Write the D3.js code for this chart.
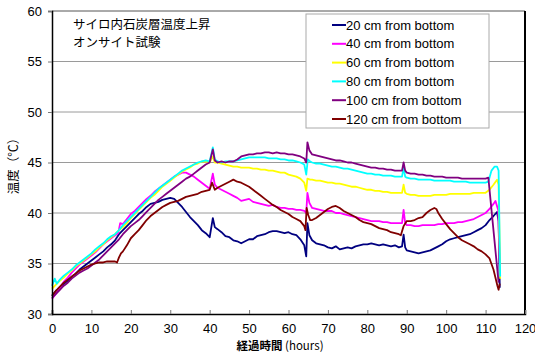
<!DOCTYPE html>
<html>
<head>
<meta charset="utf-8">
<script src="https://cdn.jsdelivr.net/npm/d3@7"></script>
<style>
  body { margin: 0; background: #fff; }
  svg { display: block; }
  .tick text { font-family: "Liberation Sans", Arial, sans-serif; font-size: 13px; fill: #000; }
</style>
</head>
<body>
<div id="chart"></div>
<script>
// tick labels
const xTicks = [0, 10, 20, 30, 40, 50, 60, 70, 80, 90, 100, 110, 120];
const yTicks = [30, 35, 40, 45, 50, 55, 60];

const seriesNames = ["20 cm from bottom", "40 cm from bottom", "60 cm from bottom",
    "80 cm from bottom", "100 cm from bottom", "120 cm from bottom"];

// [hours, temperature]
const s20 = [[0,31.8],[1,32.3],[2,32.6],[3,33.0],[4,33.3],[5,33.7],[6,34.0],[7,34.4],[8,34.7],[9,35.0],[10,35.3],[11,35.6],[12,35.9],[13,36.2],[14,36.6],[15,36.9],[16,37.3],[17,37.9],[18,38.3],[19,38.7],[20,39.1],[21,39.5],[22,39.9],[23,40.2],[24,40.6],[25,40.9],[26,41.0],[27,41.1],[28,41.3],[29,41.4],[30,41.5],[31,41.4],[32,41.0],[33,40.6],[34,40.1],[35,39.6],[36,39.2],[37,38.8],[38,38.3],[39,38.0],[40,37.6],[40.8,39.5],[41.3,38.6],[42,38.4],[43,38.1],[44,37.7],[45,37.6],[46,37.3],[47,37.2],[48,37.0],[49,37.2],[50,37.4],[51,37.4],[52,37.7],[53,37.8],[54,37.9],[55,38.1],[56,38.2],[57,38.2],[58,38.1],[59,38.0],[60,38.1],[61,37.9],[62,37.8],[63,37.4],[64,36.8],[64.5,35.7],[64.8,39.0],[65.3,37.8],[66,37.3],[67,37.0],[68,36.9],[69,36.8],[70,36.6],[71,36.5],[72,36.7],[73,36.4],[74,36.5],[75,36.6],[76,36.5],[77,36.7],[78,36.8],[79,36.9],[80,36.9],[81,37.0],[82,36.9],[83,36.8],[84,36.9],[85,36.8],[86,36.7],[87,36.8],[88,36.6],[88.8,36.7],[89.2,37.85],[89.6,36.6],[90,36.3],[91,36.2],[92,36.1],[93,36.0],[94,36.1],[95,36.2],[96,36.3],[97,36.5],[98,36.7],[99,36.9],[100,37.2],[101,37.4],[102,37.5],[103,37.6],[104,37.7],[105,37.8],[106,37.9],[107,38.1],[108,38.3],[109,38.5],[110,38.8],[111,39.3],[112,39.7],[112.9,40.1],[113.3,39.2],[113.6,32.6]];
const s40 = [[0,31.5],[1,32.0],[2,32.6],[3,33.2],[4,33.6],[5,34.1],[6,34.5],[7,34.9],[8,35.2],[9,35.5],[10,35.8],[11,36.1],[12,36.5],[13,36.9],[14,37.2],[15,37.5],[16,37.8],[16.8,38.0],[17.3,39.0],[18,38.9],[19,39.4],[20,39.9],[21,40.2],[22,40.6],[23,41.0],[24,41.4],[25,41.7],[26,42.1],[27,42.4],[28,42.7],[29,43.0],[30,43.3],[31,43.6],[32,43.8],[33,44.0],[34,44.0],[35,43.8],[36,43.6],[37,43.3],[38,43.0],[39,42.7],[40,42.4],[40.8,43.9],[41.3,42.8],[42,42.5],[43,42.3],[44,42.1],[45,41.9],[46,41.7],[47,41.5],[48,41.2],[49,41.3],[50,41.4],[51,41.1],[52,41.0],[53,40.9],[54,40.8],[55,40.7],[56,40.8],[57,40.6],[58,40.5],[59,40.5],[60,40.4],[61,40.4],[62,40.3],[63,40.3],[64,40.2],[64.5,40.0],[64.8,42.0],[65.3,41.0],[66,40.5],[67,40.4],[68,40.3],[69,40.2],[70,40.2],[71,40.2],[72,40.0],[73,40.0],[74,39.9],[75,39.8],[76,39.7],[77,39.6],[78,39.5],[79,39.4],[80,39.3],[81,39.2],[82,39.2],[83,39.2],[84,39.1],[85,39.1],[86,39.0],[87,39.0],[88,39.0],[88.8,39.0],[89.2,40.3],[89.6,39.0],[90,38.8],[91,38.8],[92,38.7],[93,38.7],[94,38.8],[95,38.8],[96,38.8],[97,38.8],[98,38.9],[99,38.9],[100,39.0],[101,39.0],[102,39.0],[103,39.1],[104,39.1],[105,39.2],[106,39.3],[107,39.4],[108,39.6],[109,39.8],[110,40.0],[111,40.4],[112,40.9],[112.5,41.2],[113.2,40.3],[113.7,33.7]];
const s60 = [[0,32.5],[1,32.9],[2,33.3],[3,33.6],[4,34.0],[5,34.3],[6,34.7],[7,35.0],[8,35.3],[9,35.6],[10,35.9],[11,36.2],[12,36.6],[13,36.9],[14,37.3],[15,37.6],[16,37.9],[17,38.3],[18,38.6],[19,39.0],[20,39.5],[21,39.9],[22,40.3],[23,40.7],[24,41.1],[25,41.5],[26,41.8],[27,42.2],[28,42.6],[29,42.9],[30,43.2],[31,43.5],[32,43.8],[33,44.1],[34,44.3],[35,44.5],[36,44.8],[37,44.9],[38,45.1],[39,45.1],[40,45.0],[40.8,45.6],[41.3,45.0],[42,45.0],[43,44.9],[44,44.8],[45,44.7],[46,44.6],[47,44.6],[48,44.5],[49,44.5],[50,44.5],[51,44.4],[52,44.4],[53,44.3],[54,44.3],[55,44.2],[56,44.2],[57,44.1],[58,44.0],[59,44.0],[60,43.8],[61,43.7],[62,43.6],[63,43.4],[64,43.0],[64.5,42.2],[64.8,43.4],[65.5,43.3],[66,43.3],[67,43.2],[68,43.2],[69,43.1],[70,43.0],[71,43.0],[72,42.9],[73,42.9],[74,42.8],[75,42.7],[76,42.6],[77,42.6],[78,42.5],[79,42.4],[80,42.3],[81,42.3],[82,42.2],[83,42.2],[84,42.1],[85,42.1],[86,42.0],[87,42.0],[88,42.0],[88.8,42.0],[89.2,42.8],[89.6,42.0],[90,41.9],[91,41.8],[92,41.8],[93,41.7],[94,41.7],[95,41.7],[96,41.7],[97,41.8],[98,41.8],[99,41.8],[100,41.8],[101,41.9],[102,41.9],[103,41.9],[104,41.9],[105,41.9],[106,41.9],[107,42.0],[108,42.0],[109,42.0],[110,42.0],[111,42.3],[112,42.8],[112.9,43.3],[113.3,42.8],[113.7,33.5]];
const s80 = [[0,32.8],[0.7,33.5],[1.2,33.0],[2,33.4],[3,33.8],[4,34.1],[5,34.4],[6,34.8],[7,35.1],[8,35.4],[9,35.7],[10,36.0],[11,36.4],[12,36.7],[13,37.0],[14,37.4],[15,37.7],[16,37.9],[17,38.3],[18,38.8],[19,39.2],[20,39.6],[21,40.0],[22,40.4],[23,40.8],[24,41.2],[25,41.6],[26,42.0],[27,42.4],[28,42.7],[29,43.0],[30,43.3],[31,43.6],[32,43.9],[33,44.2],[34,44.4],[35,44.6],[36,44.8],[37,45.0],[38,45.1],[39,45.2],[40,45.1],[40.8,46.5],[41.3,45.3],[42,45.1],[43,45.0],[44,45.1],[45,45.1],[46,45.1],[47,45.2],[48,45.3],[49,45.4],[50,45.5],[51,45.5],[52,45.5],[53,45.5],[54,45.5],[55,45.4],[56,45.4],[57,45.4],[58,45.3],[59,45.3],[60,45.2],[61,45.2],[62,45.1],[63,45.0],[64,44.8],[64.5,43.8],[64.9,45.3],[65.5,45.1],[66,45.0],[67,44.9],[68,44.9],[69,44.8],[70,44.7],[71,44.6],[72,44.6],[73,44.5],[74,44.4],[75,44.4],[76,44.3],[77,44.2],[78,44.1],[79,44.0],[80,43.9],[81,43.9],[82,43.8],[83,43.8],[84,43.7],[85,43.7],[86,43.7],[87,43.6],[88,43.6],[88.8,43.6],[89.2,44.5],[89.6,43.6],[90,43.5],[91,43.4],[92,43.4],[93,43.3],[94,43.3],[95,43.3],[96,43.3],[97,43.2],[98,43.2],[99,43.2],[100,43.2],[101,43.2],[102,43.1],[103,43.1],[104,43.1],[105,43.1],[106,43.0],[107,43.0],[108,43.0],[109,43.0],[110,43.0],[110.7,43.1],[111.5,44.2],[112.3,44.6],[112.9,44.6],[113.3,44.2],[113.7,33.7]];
const s100 = [[0,31.6],[1,32.0],[2,32.4],[3,32.8],[4,33.1],[5,33.5],[6,33.8],[7,34.1],[8,34.3],[9,34.5],[10,34.8],[11,35.1],[12,35.4],[13,35.8],[14,36.2],[15,36.6],[16,37.0],[17,37.4],[18,37.9],[19,38.3],[20,38.7],[21,39.0],[22,39.3],[23,39.7],[24,40.1],[25,40.5],[26,40.9],[27,41.3],[28,41.6],[29,41.9],[30,42.2],[31,42.5],[32,42.8],[33,43.1],[34,43.4],[35,43.6],[36,43.9],[37,44.2],[38,44.5],[39,44.8],[40,45.0],[40.8,46.3],[41.3,45.2],[42,45.0],[43,45.1],[44,45.0],[45,45.1],[46,45.1],[47,45.3],[48,45.6],[49,45.7],[50,45.8],[51,45.8],[52,45.9],[53,45.9],[54,46.0],[55,46.0],[56,45.9],[57,46.0],[58,45.9],[59,45.9],[60,45.8],[61,45.8],[62,45.7],[63,45.6],[64,45.4],[64.5,45.0],[64.8,47.0],[65.3,46.2],[66,45.8],[67,45.7],[68,45.6],[69,45.5],[70,45.4],[71,45.3],[72,45.2],[73,45.2],[74,45.1],[75,45.0],[76,45.0],[77,44.9],[78,44.8],[79,44.7],[80,44.6],[81,44.5],[82,44.5],[83,44.4],[84,44.4],[85,44.3],[86,44.3],[87,44.2],[88,44.2],[88.8,44.2],[89.2,45.0],[89.6,44.2],[90,44.0],[91,43.9],[92,43.9],[93,43.8],[94,43.8],[95,43.7],[96,43.7],[97,43.6],[98,43.6],[99,43.6],[100,43.5],[101,43.5],[102,43.5],[103,43.5],[104,43.4],[105,43.4],[106,43.4],[107,43.4],[108,43.4],[109,43.4],[110,43.4],[110.7,43.5],[113.3,33.1]];
const s120 = [[0,31.8],[1,32.3],[2,32.7],[3,33.1],[4,33.4],[5,33.7],[6,34.0],[7,34.3],[8,34.5],[9,34.7],[10,34.9],[11,35.0],[12,35.1],[13,35.1],[14,35.2],[15,35.2],[16,35.2],[16.5,35.1],[17,35.6],[17.5,36.0],[18,36.2],[19,36.8],[20,37.5],[21,37.9],[22,38.3],[23,38.8],[24,39.3],[25,39.7],[26,40.0],[27,40.3],[28,40.6],[29,40.8],[30,41.0],[31,41.1],[32,41.2],[33,41.4],[34,41.6],[35,41.7],[36,41.8],[37,41.9],[38,42.1],[39,42.2],[40,42.3],[40.6,43.0],[41.3,42.3],[42,42.5],[43,42.7],[44,42.9],[45,43.1],[46,43.3],[47,43.1],[48,43.0],[49,42.8],[50,42.6],[51,42.3],[52,42.0],[53,41.7],[54,41.4],[55,41.1],[56,40.8],[57,40.6],[58,40.3],[59,40.1],[60,39.9],[61,39.6],[62,39.4],[63,39.2],[64,38.7],[64.3,38.3],[64.6,40.5],[65,39.8],[65.5,39.3],[66,39.3],[67,39.5],[68,39.8],[69,40.1],[70,40.4],[71,40.6],[72,40.7],[73,40.5],[74,40.2],[75,40.0],[76,39.8],[77,39.6],[78,39.3],[79,39.1],[80,39.0],[81,38.9],[82,38.7],[83,38.5],[84,38.4],[85,38.3],[86,38.1],[87,38.0],[88,37.9],[88.5,37.8],[89.2,38.7],[90,39.2],[91,39.2],[92,39.3],[93,39.5],[94,39.6],[95,40.0],[96,40.3],[97,40.5],[97.5,40.4],[98,40.0],[99,39.4],[100,38.9],[101,38.4],[102,38.0],[103,37.6],[104,37.3],[105,37.1],[106,36.9],[107,36.7],[108,36.4],[109,36.2],[110,35.9],[111,35.5],[112,34.4],[113,32.8],[113.3,32.4],[113.6,33.0]];

const seriesData = [s20, s40, s60, s80, s100, s120];
const colors = ["#000080", "#ff00ff", "#ffff00", "#00ffff", "#800080", "#800000"];

const w = 535, h = 352;
const margin = { top: 11, right: 10, bottom: 38, left: 52 };

const svg = d3.select("#chart")
    .append("svg")
    .attr("width", w)
    .attr("height", h);

const xScale = d3.scaleLinear()
    .domain([0, 120])
    .range([margin.left, w - margin.right]);

const yScale = d3.scaleLinear()
    .domain([30, 60])
    .range([h - margin.bottom, margin.top]);

// horizontal grid
svg.append("g")
    .selectAll("line")
    .data(yTicks.filter(d => d > 30 && d < 60))
    .join("line")
    .attr("x1", xScale(0))
    .attr("x2", xScale(120))
    .attr("y1", d => yScale(d))
    .attr("y2", d => yScale(d))
    .attr("stroke", "#9a9a9a")
    .attr("stroke-width", 1);

// top and right border of the plot area
svg.append("line")
    .attr("x1", xScale(0)).attr("x2", xScale(120))
    .attr("y1", yScale(60)).attr("y2", yScale(60))
    .attr("stroke", "#555").attr("stroke-width", 1);
svg.append("line")
    .attr("x1", xScale(120)).attr("x2", xScale(120))
    .attr("y1", yScale(60)).attr("y2", yScale(30))
    .attr("stroke", "#000").attr("stroke-width", 2);

// series lines
const line = d3.line()
    .x(d => xScale(d[0]))
    .y(d => yScale(d[1]));

svg.append("g")
    .selectAll("path")
    .data(seriesData)
    .join("path")
    .attr("d", line)
    .attr("fill", "none")
    .attr("stroke", (d, i) => colors[i])
    .attr("stroke-width", 1.8)
    .attr("stroke-linejoin", "round");

// axes
const xAxis = d3.axisBottom(xScale)
    .tickValues(xTicks)
    .tickSize(-4)
    .tickPadding(10);
svg.append("g")
    .attr("transform", "translate(0," + yScale(30) + ")")
    .call(xAxis)
    .call(g => g.select(".domain").attr("stroke-width", 1.5))
    .call(g => g.selectAll(".tick line").attr("stroke", "#777"));

const yAxis = d3.axisLeft(yScale)
    .tickValues(yTicks)
    .tickSize(4)
    .tickPadding(6);
svg.append("g")
    .attr("transform", "translate(" + xScale(0) + ",0)")
    .call(yAxis)
    .call(g => g.select(".domain").attr("stroke-width", 1.5))
    .call(g => g.selectAll(".tick line").attr("stroke", "#777"));

// title
const title = svg.append("text")
    .attr("font-family", "'Noto Sans CJK JP', sans-serif")
    .attr("font-size", 12.5)
    .attr("fill", "#000");
title.append("tspan").attr("x", 73).attr("y", 29).text("サイロ内石炭層温度上昇");
title.append("tspan").attr("x", 73).attr("y", 47).text("オンサイト試験");

// axis titles
svg.append("text")
    .attr("transform", "translate(18,163) rotate(-90)")
    .attr("text-anchor", "middle")
    .attr("font-family", "'Noto Sans CJK JP', sans-serif")
    .attr("font-size", 12.5)
    .text("温度（℃）");

const xLabel = svg.append("text")
    .attr("x", 280)
    .attr("y", 350)
    .attr("text-anchor", "middle")
    .attr("font-family", "'Noto Sans CJK JP', sans-serif")
    .attr("font-size", 11.5);
xLabel.append("tspan").attr("font-weight", "bold").text("経過時間");
xLabel.append("tspan").text(" (hours)");

// legend
const legend = svg.append("g").attr("transform", "translate(306,14)");
legend.append("rect")
    .attr("width", 183)
    .attr("height", 114)
    .attr("fill", "#fff")
    .attr("stroke", "#aaa");
const rows = legend.selectAll("g.row")
    .data(seriesNames)
    .join("g")
    .attr("class", "row")
    .attr("transform", (d, i) => "translate(0," + (11 + i * 18.8) + ")");
rows.append("line")
    .attr("x1", 26).attr("x2", 40)
    .attr("stroke", (d, i) => colors[i])
    .attr("stroke-width", 2);
rows.append("text")
    .attr("x", 40)
    .attr("dy", "0.36em")
    .attr("font-family", "'Liberation Sans', Arial, sans-serif")
    .attr("font-size", 13)
    .text(d => d);
</script>
</body>
</html>
